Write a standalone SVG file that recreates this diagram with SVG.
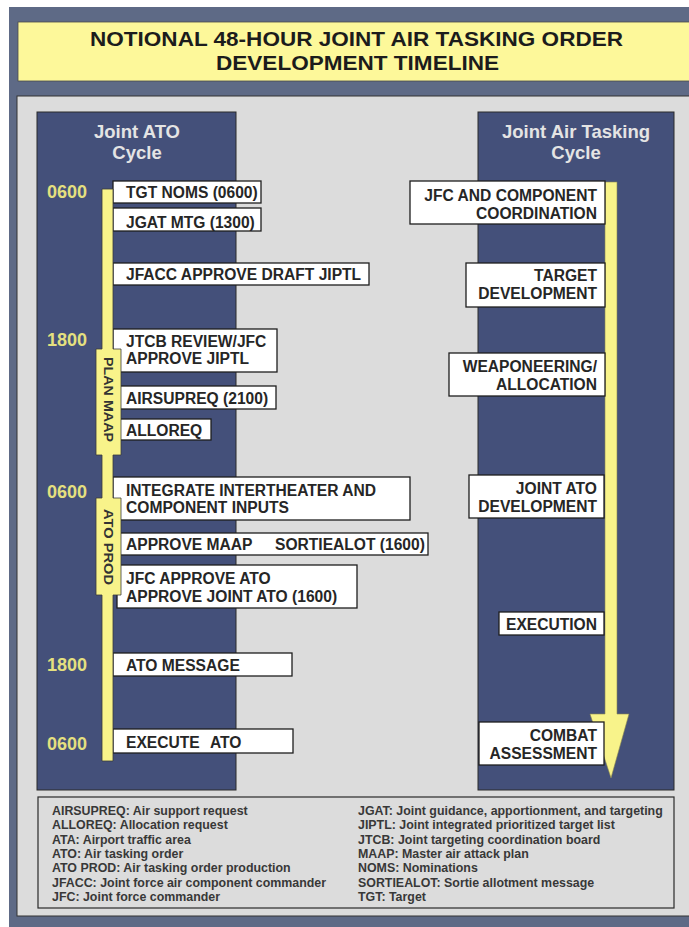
<svg xmlns="http://www.w3.org/2000/svg" width="689" height="927" viewBox="0 0 689 927">
<defs>
<style>
.bx{fill:#ffffff;stroke:#1e1e1e;stroke-width:1.3}
.bt{font-family:"Liberation Sans",Arial,sans-serif;font-weight:bold;font-size:15.6px;fill:#262626}
.hd{font-family:"Liberation Sans",Arial,sans-serif;font-weight:bold;font-size:18.5px;fill:#e4e4e4;text-anchor:middle}
.tm{font-family:"Liberation Sans",Arial,sans-serif;font-weight:bold;font-size:18px;fill:#e5e07f}
.lg{font-family:"Liberation Sans",Arial,sans-serif;font-weight:bold;font-size:12.4px;fill:#383838}
.col{fill:#44507a;stroke:#2a2a2a;stroke-width:1}
.vt{font-family:"Liberation Sans",Arial,sans-serif;font-weight:bold;font-size:13.5px;fill:#333333;text-anchor:middle;dominant-baseline:central}
</style>
</defs>
<rect x="0" y="0" width="689" height="927" fill="#ffffff"/>
<rect x="9" y="7" width="690" height="930" fill="#5e6a86"/>
<g id="title">
<rect x="18" y="22" width="680" height="59" fill="#fdf89a" stroke="#4a4a4a" stroke-width="0.8"/>
<text x="356.5" y="46" text-anchor="middle" font-family="Liberation Sans, Arial, sans-serif" font-weight="bold" font-size="20" fill="#1c1c1c" textLength="533" lengthAdjust="spacingAndGlyphs">NOTIONAL 48-HOUR JOINT AIR TASKING ORDER</text>
<text x="357.5" y="70" text-anchor="middle" font-family="Liberation Sans, Arial, sans-serif" font-weight="bold" font-size="20" fill="#1c1c1c" textLength="283" lengthAdjust="spacingAndGlyphs">DEVELOPMENT TIMELINE</text>
</g>
<rect x="17" y="96" width="680" height="820" fill="#dcdcdc" stroke="#333333" stroke-width="1"/>
<g id="left-column">
<rect class="col" x="37" y="112" width="199" height="678"/>
<text class="hd" x="137" y="137.5">Joint ATO</text>
<text class="hd" x="137" y="158.5">Cycle</text>
<text class="tm" x="47" y="197.5">0600</text>
<text class="tm" x="47" y="345.5">1800</text>
<text class="tm" x="47" y="497.5">0600</text>
<text class="tm" x="47" y="670.5">1800</text>
<text class="tm" x="47" y="749.5">0600</text>
</g>
<g id="right-column">
<rect class="col" x="478" y="112" width="196" height="678"/>
<text class="hd" x="576" y="137.5">Joint Air Tasking</text>
<text class="hd" x="576" y="158.5">Cycle</text>
</g>
<g id="connectors">
<path id="right-arrow" d="M605,182 H617 V714 H629 L611,778 L590,714 H605 Z" fill="#f8f38a" stroke="#8a8650" stroke-width="0.6"/>
</g>
<g id="left-nodes">
<g id="n-tgt"><rect class="bx" x="113" y="181" width="148" height="22"/><text class="bt" x="126" y="197.5">TGT NOMS (0600)</text></g>
<g id="n-jgat"><rect class="bx" x="113" y="208" width="148" height="23"/><text class="bt" x="126" y="227.5">JGAT MTG (1300)</text></g>
<g id="n-jfacc"><rect class="bx" x="113" y="263" width="256" height="22"/><text class="bt" x="126" y="279.5">JFACC APPROVE DRAFT JIPTL</text></g>
<g id="n-jtcb"><rect class="bx" x="113" y="329" width="164" height="43"/><text class="bt" x="126" y="346.5">JTCB REVIEW/JFC</text><text class="bt" x="126" y="363.5">APPROVE JIPTL</text></g>
<g id="n-airsupreq"><rect class="bx" x="113" y="386" width="163" height="23"/><text class="bt" x="126" y="403.5">AIRSUPREQ (2100)</text></g>
<g id="n-alloreq"><rect class="bx" x="113" y="419" width="98" height="21"/><text class="bt" x="126" y="435.5">ALLOREQ</text></g>
<g id="n-integrate"><rect class="bx" x="113" y="477" width="297" height="43"/><text class="bt" x="126" y="495.5">INTEGRATE INTERTHEATER AND</text><text class="bt" x="126" y="512.5">COMPONENT INPUTS</text></g>
<g id="n-maap"><rect class="bx" x="113" y="533" width="315" height="22"/><text class="bt" y="549.5"><tspan x="126">APPROVE MAAP</tspan><tspan x="275">SORTIEALOT (1600)</tspan></text></g>
<g id="n-jfcato"><rect class="bx" x="117" y="565" width="240" height="43"/><text class="bt" x="126" y="583.5">JFC APPROVE ATO</text><text class="bt" x="126" y="601.5">APPROVE JOINT ATO (1600)</text></g>
<g id="n-atomsg"><rect class="bx" x="113" y="653" width="179" height="23"/><text class="bt" x="126" y="670.5">ATO MESSAGE</text></g>
<g id="n-exec"><rect class="bx" x="113" y="729" width="180" height="24"/><text class="bt" y="747.5"><tspan x="126">EXECUTE</tspan><tspan x="210">ATO</tspan></text></g>
</g>
<g id="left-timeline">
<path d="M102,189 H113 V349 H121 V455 H113 V498 H121 V595 H113 V761 H102 V595 H96 V498 H102 V455 H96 V349 H102 Z" fill="#f8f38a" stroke="#3a3a3a" stroke-width="0.8"/>
<text class="vt" transform="translate(108.5,399.5) rotate(90)" textLength="85" lengthAdjust="spacingAndGlyphs">PLAN MAAP</text>
<text class="vt" transform="translate(108.5,547) rotate(90)" textLength="76" lengthAdjust="spacingAndGlyphs">ATO PROD</text>
</g>
<g id="right-nodes">
<g id="r-jfc"><rect class="bx" x="410" y="181" width="195" height="43"/><text class="bt" x="597" y="200.5" text-anchor="end">JFC AND COMPONENT</text><text class="bt" x="597" y="218.5" text-anchor="end">COORDINATION</text></g>
<g id="r-target"><rect class="bx" x="466" y="263" width="139" height="44"/><text class="bt" x="597" y="280.5" text-anchor="end">TARGET</text><text class="bt" x="597" y="298.5" text-anchor="end">DEVELOPMENT</text></g>
<g id="r-weap"><rect class="bx" x="449" y="353" width="156" height="43"/><text class="bt" x="597" y="371.5" text-anchor="end">WEAPONEERING/</text><text class="bt" x="597" y="390" text-anchor="end">ALLOCATION</text></g>
<g id="r-jato"><rect class="bx" x="469" y="475" width="135" height="43"/><text class="bt" x="597" y="493.5" text-anchor="end">JOINT ATO</text><text class="bt" x="597" y="511.5" text-anchor="end">DEVELOPMENT</text></g>
<g id="r-exec"><rect class="bx" x="499" y="612" width="105" height="23"/><text class="bt" x="597" y="629.5" text-anchor="end">EXECUTION</text></g>
<g id="r-combat"><rect class="bx" x="479" y="722" width="125" height="43"/><text class="bt" x="597" y="740.5" text-anchor="end">COMBAT</text><text class="bt" x="597" y="758.5" text-anchor="end">ASSESSMENT</text></g>
</g>
<g id="legend">
<rect x="38" y="797" width="636" height="111" fill="#dcdcdc" stroke="#2a2a2a" stroke-width="1.2"/>
<text class="lg" x="52" y="815">AIRSUPREQ: Air support request</text>
<text class="lg" x="52" y="829.3">ALLOREQ: Allocation request</text>
<text class="lg" x="52" y="843.6">ATA: Airport traffic area</text>
<text class="lg" x="52" y="857.9">ATO: Air tasking order</text>
<text class="lg" x="52" y="872.2">ATO PROD:  Air tasking order production</text>
<text class="lg" x="52" y="886.5">JFACC: Joint force air component commander</text>
<text class="lg" x="52" y="900.8">JFC: Joint force commander</text>
<text class="lg" x="358" y="815">JGAT: Joint guidance, apportionment, and targeting</text>
<text class="lg" x="358" y="829.3">JIPTL: Joint integrated prioritized target list</text>
<text class="lg" x="358" y="843.6">JTCB: Joint targeting coordination board</text>
<text class="lg" x="358" y="857.9">MAAP: Master air attack plan</text>
<text class="lg" x="358" y="872.2">NOMS:  Nominations</text>
<text class="lg" x="358" y="886.5">SORTIEALOT: Sortie allotment message</text>
<text class="lg" x="358" y="900.8">TGT: Target</text>
</g>
</svg>
